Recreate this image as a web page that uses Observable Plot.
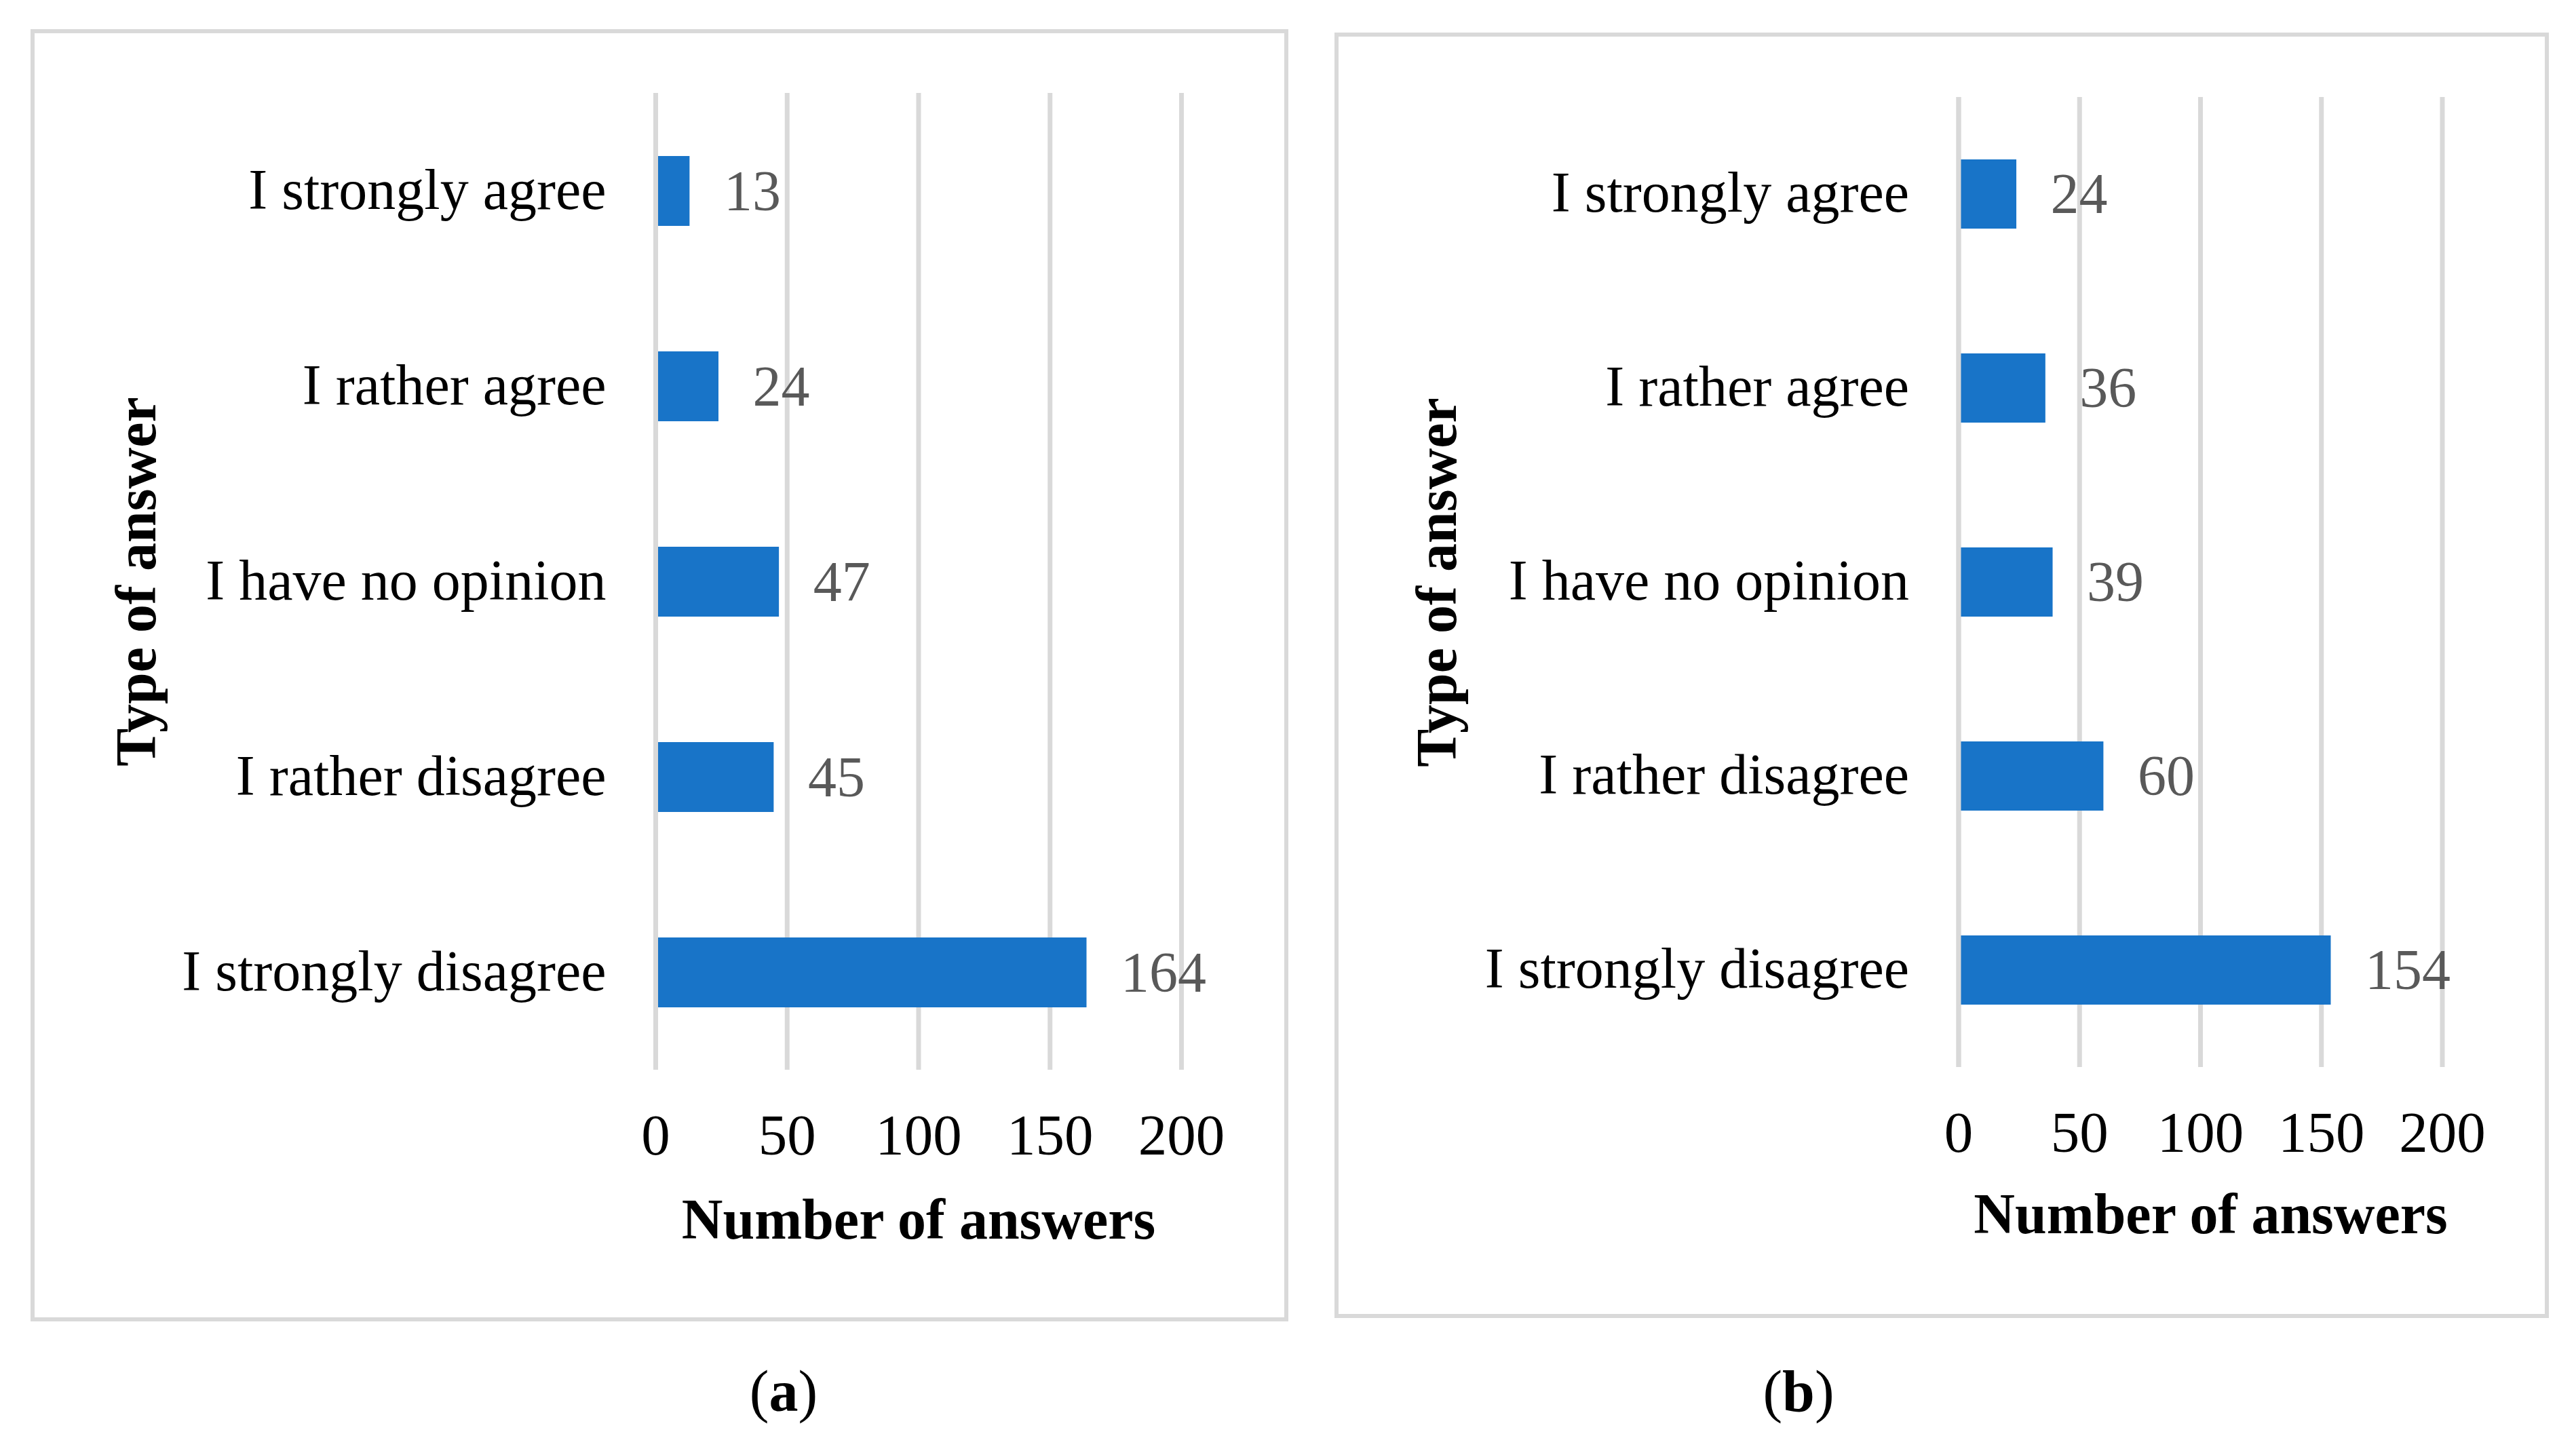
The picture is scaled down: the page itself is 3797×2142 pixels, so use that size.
<!DOCTYPE html>
<html><head><meta charset="utf-8">
<script src="https://cdn.jsdelivr.net/npm/d3@7"></script>
<script src="https://cdn.jsdelivr.net/npm/@observablehq/plot@0.6"></script>
<style>
html,body{margin:0;padding:0;background:#fff;}
#root{position:relative;width:3797px;height:2142px;overflow:hidden;background:#fff;font-family:"Liberation Serif","Times New Roman",serif;}
.panel{position:absolute;border:6px solid #d9d9d9;background:#fff;}
.panel svg{display:block;overflow:visible;}
.cap{position:absolute;width:400px;text-align:center;font-size:86px;line-height:86px;color:#000;font-family:"Liberation Serif","Times New Roman",serif;}
</style></head><body><div id="root"></div>
<script>
const categories = ["I strongly agree","I rather agree","I have no opinion","I rather disagree","I strongly disagree"];
const valuesA = [13, 24, 47, 45, 164];
const valuesB = [24, 36, 39, 60, 154];
const xTicks = [0, 50, 100, 150, 200];
const xTitle = "Number of answers";
const yTitle = "Type of answer";
const captionLetters = ["a", "b"];

const FONT = '"Liberation Serif","Times New Roman",serif';

function panel(values, cfg) {
  const data = categories.map((c, i) => ({category: c, value: values[i]}));
  return Plot.plot({
    width: cfg.width, height: cfg.height,
    marginLeft: cfg.ml, marginRight: cfg.mr, marginTop: cfg.mt, marginBottom: cfg.mb,
    style: {fontFamily: FONT, fontSize: "84px", color: "#000", background: "#fff", overflow: "visible"},
    x: {domain: [0, 200]},
    y: {domain: categories, paddingInner: 0.643, paddingOuter: 0.3215},
    marks: [
      Plot.ruleX(xTicks, {stroke: "#d9d9d9", strokeWidth: 7}),
      Plot.barX(data, {y: "category", x: "value", fill: "#1874c8"}),
      Plot.ruleX([0], {stroke: "#d9d9d9", strokeWidth: 7}),
      Plot.text(data, {y: "category", x: "value", text: d => String(d.value), textAnchor: "start", dx: 50, dy: 1, fill: "#595959", fontSize: 84}),
      Plot.axisX({ticks: xTicks, tickSize: 0, tickPadding: 64, label: null, fontSize: 85, fill: "#000"}),
      Plot.axisY({tickSize: 0, tickPadding: 73, label: null, fontSize: 84, dy: -1, fill: "#000"}),
      Plot.text([xTitle], {text: d => d, frameAnchor: "bottom", textAnchor: "middle", lineAnchor: "bottom", dy: cfg.xTitleDy, dx: cfg.xTitleDx, fontWeight: "bold", fontSize: 84, fill: "#000"}),
      Plot.text([yTitle], {text: d => d, frameAnchor: "left", rotate: -90, textAnchor: "middle", lineAnchor: "bottom", dx: cfg.yTitleDx, fontWeight: "bold", fontSize: 84, fill: "#000"})
    ]
  });
}

const root = document.getElementById("root");

function addPanel(values, pos, cfg) {
  const div = document.createElement("div");
  div.className = "panel";
  div.style.left = pos.left + "px";
  div.style.top = pos.top + "px";
  div.appendChild(panel(values, cfg));
  root.appendChild(div);
}

addPanel(valuesA, {left: 45, top: 43},
  {width: 1842, height: 1893, ml: 915, mr: 152, mt: 88, mb: 365, xTitleDy: 248, xTitleDx: 0, yTitleDx: -738});
addPanel(valuesB, {left: 1967, top: 48},
  {width: 1778, height: 1883, ml: 913.5, mr: 151.5, mt: 89, mb: 364, xTitleDy: 244, xTitleDx: 15, yTitleDx: -741.5});

const capPos = [{center: 1155, baseline: 2080}, {center: 2651, baseline: 2080}];
captionLetters.forEach((l, i) => {
  const c = document.createElement("div");
  c.className = "cap";
  c.style.left = (capPos[i].center - 200) + "px";
  c.style.top = (capPos[i].baseline - 72) + "px";
  c.innerHTML = "(<b>" + l + "</b>)";
  root.appendChild(c);
});
</script>
</body></html>
